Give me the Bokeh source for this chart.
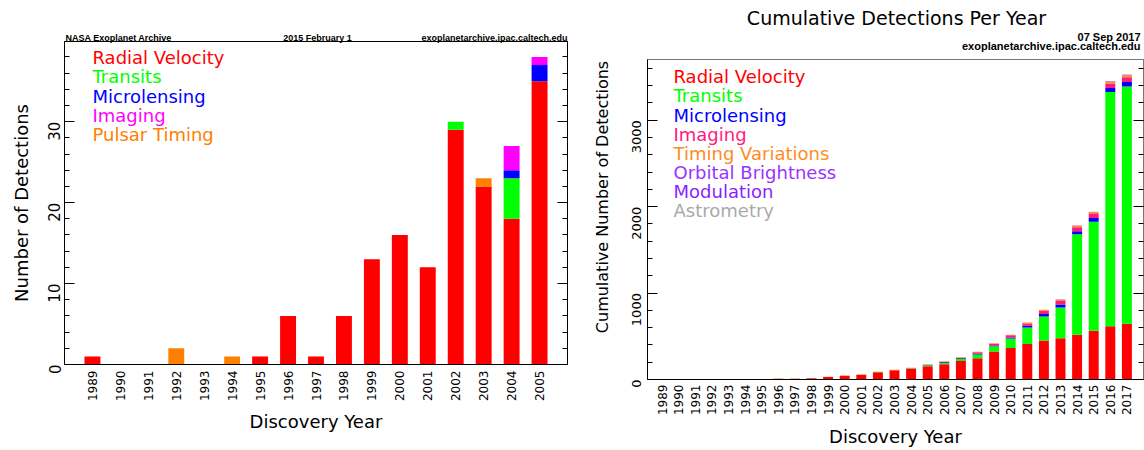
from math import pi
from bokeh.plotting import figure
from bokeh.layouts import row
from bokeh.models import (ColumnDataSource, Label, LinearAxis, FixedTicker,
                          SingleIntervalTicker, Range1d)
from bokeh.embed import file_html
from bokeh.resources import INLINE

# ---------------- data: left chart (detections per year, snapshot 2015) ----------------
years_a = list(range(1989, 2006))
rv_a      = [1, 0, 0, 0, 0, 0, 1, 6, 1, 6, 13, 16, 12, 29, 22, 18, 35]
transit_a = [0, 0, 0, 0, 0, 0, 0, 0, 0, 0, 0, 0, 0, 1, 0, 5, 0]
micro_a   = [0, 0, 0, 0, 0, 0, 0, 0, 0, 0, 0, 0, 0, 0, 0, 1, 2]
imaging_a = [0, 0, 0, 0, 0, 0, 0, 0, 0, 0, 0, 0, 0, 0, 0, 3, 1]
pulsar_a  = [0, 0, 0, 2, 0, 1, 0, 0, 0, 0, 0, 0, 0, 0, 1, 0, 0]
methods_a = ["Radial Velocity", "Transits", "Microlensing", "Imaging", "Pulsar Timing"]
colors_a  = ["#ff0000", "#00ff00", "#0000ff", "#ff00ff", "#ff8000"]

# ---------------- data: right chart (cumulative detections, snapshot 2017) ----------------
years_b = list(range(1989, 2018))
rv_b      = [1, 1, 1, 1, 1, 1, 2, 8, 9, 15, 28, 44, 56, 85, 107, 123, 154, 177, 215, 246,
             323, 365, 411, 450, 477, 519, 565, 615, 646]
transit_b = [0]*13 + [1, 1, 6, 10, 15, 23, 42, 61, 108, 192, 280, 357, 1161, 1261, 2710, 2745]
micro_b   = [0]*15 + [1, 4, 8, 9, 9, 10, 14, 18, 29, 34, 36, 42, 47, 50]
imaging_b = [0]*15 + [3, 4, 6, 6, 17, 19, 24, 27, 35, 41, 45, 47, 52, 55]
timing_b  = [0, 0, 0, 2, 2, 3, 3, 3, 3, 3, 3, 3, 3, 3, 4, 4, 4, 4, 5, 6, 7, 8, 10, 12,
             14, 17, 19, 22, 25]
orbital_b = [0]*22 + [1, 1, 3, 4, 5, 5, 6]
astro_b   = [0]*24 + [1, 1, 1, 1, 1]
methods_b = ["Radial Velocity", "Transits", "Microlensing", "Imaging",
             "Timing Variations", "Orbital Brightness Modulation", "Astrometry"]
colors_b  = ["#ff0000", "#00ff00", "#0000ff", "#ff1a80", "#ff8c1e", "#9933ff", "#aaaaaa"]
legend_b  = ["Radial Velocity", "Transits", "Microlensing", "Imaging", "Timing Variations",
             "Orbital Brightness", "Modulation", "Astrometry"]
legend_b_colors = ["#ff0000", "#00ff00", "#0000ff", "#ff1a80", "#ff8c1e", "#9933ff",
                   "#8a1fff", "#aaaaaa"]

FONT = "DejaVu Sans"
HFONT = "Liberation Sans"


def label_at(p, geom, px, py, text, size, color="black", align="left",
             baseline="alphabetic", font=FONT, style="normal"):
    """Label inside the frame, positioned through the plot's own data scales."""
    x0, x1, y0, y1, L, R, T, B = geom
    x = x0 + (px - L) / (R - L) * (x1 - x0)
    y = y0 + (B - py) / (B - T) * (y1 - y0)
    p.add_layout(Label(x=x, y=y, text=text, text_font_size=f"{size}px",
                       text_color=color, text_align=align, text_baseline=baseline,
                       text_font=font, text_font_style=style))


def side_text(p, side, px, py, text, size, color="black", align="left",
              baseline="alphabetic", font=FONT, style="normal", angle=0.0):
    """Text placed in a side panel (not clipped), in canvas pixels."""
    kw = dict(text=text, text_font_size=f"{size}px", text_color=color,
              text_align=align, text_baseline=baseline, text_font=font,
              text_font_style=style, angle=angle)
    try:
        lab = Label(x=px, y=py, x_units="canvas", y_units="canvas", **kw)
    except Exception:
        lab = Label(x=px, y=py, x_units="screen", y_units="screen", **kw)
    p.add_layout(lab, side)


def style_axes(p, years, interval, ytick_size, xtick_size, ystand, ylab_stand,
               xstand, xlab_stand, ylabel, ylab_size, outline):
    p.grid.visible = False
    p.outline_line_color = outline
    p.background_fill_color = "white"
    p.border_fill_color = "white"
    xa = p.xaxis[0]
    xa.ticker = FixedTicker(ticks=years)
    xa.major_label_orientation = pi / 2
    xa.major_tick_line_color = None
    xa.minor_tick_line_color = None
    xa.major_tick_in = 0
    xa.major_tick_out = 0
    xa.minor_tick_in = 0
    xa.minor_tick_out = 0
    xa.axis_line_color = "black"
    xa.major_label_text_font = FONT
    xa.major_label_text_font_size = f"{xtick_size}px"
    xa.major_label_text_color = "black"
    xa.major_label_standoff = xstand
    xa.axis_label = "Discovery Year"
    xa.axis_label_text_font = FONT
    xa.axis_label_text_font_size = "18px"
    xa.axis_label_text_font_style = "normal"
    xa.axis_label_text_color = "black"
    xa.axis_label_standoff = xlab_stand

    ya = p.yaxis[0]
    ya.ticker = SingleIntervalTicker(interval=interval, num_minor_ticks=5)
    ya.major_label_orientation = pi / 2
    ya.major_tick_in = 10
    ya.major_tick_out = 0
    ya.minor_tick_in = 5
    ya.minor_tick_out = 0
    ya.major_tick_line_color = "black"
    ya.minor_tick_line_color = "black"
    ya.axis_line_color = "black"
    ya.major_label_text_font = FONT
    ya.major_label_text_font_size = f"{ytick_size}px"
    ya.major_label_text_color = "black"
    ya.major_label_standoff = ystand
    if ylabel:
        ya.axis_label = ylabel
        ya.axis_label_text_font = FONT
        ya.axis_label_text_font_size = f"{ylab_size}px"
        ya.axis_label_text_font_style = "normal"
        ya.axis_label_text_color = "black"
        ya.axis_label_standoff = ylab_stand

    ra = LinearAxis(ticker=SingleIntervalTicker(interval=interval, num_minor_ticks=5),
                    major_tick_in=10, major_tick_out=0, minor_tick_in=5, minor_tick_out=0,
                    major_label_text_color=None, major_label_text_font_size="1px",
                    major_label_standoff=0, axis_line_color=outline,
                    major_tick_line_color="black", minor_tick_line_color="black")
    p.add_layout(ra, "right")


# Both figures share the same top (59) and bottom (70) borders so that the row's
# frame alignment is a no-op; the left one is lifted 18 px with a negative margin.
TOPB, BOTB = 59, 70
UP = 18
LEG = 6   # labels sit ~6px lower than their nominal baseline; compensate

# ---------------- left figure (canvas y = page y + 18) ----------------
xa0, xa1, ya0, ya1 = 1988.0, 2006.0, 0.0, 39.9
geomA = (xa0, xa1, ya0, ya1, 64, 567, 41 + UP, 365 + UP)
pA = figure(width=580, height=365 + UP + BOTB, x_range=Range1d(xa0, xa1),
            y_range=Range1d(ya0, ya1), output_backend="svg", toolbar_location=None,
            min_border_left=64, min_border_right=13, min_border_top=TOPB,
            min_border_bottom=BOTB, margin=(-UP, 0, 0, 0))
srcA = ColumnDataSource(dict(year=years_a, rv=rv_a, tr=transit_a, mi=micro_a,
                             im=imaging_a, pu=pulsar_a))
pA.vbar_stack(["rv", "tr", "mi", "im", "pu"], x="year", width=0.57, source=srcA,
              fill_color=colors_a, line_color=None)
style_axes(pA, years_a, 10, 15, 12, 10, 8, 6, 7, "Number of Detections", 18, "black")

for i, (name, col) in enumerate(zip(methods_a, colors_a)):
    label_at(pA, geomA, 92, 63 - LEG + UP + 19.4 * i, name, 18, color=col)

side_text(pA, "above", 65, 37 + UP, "NASA Exoplanet Archive", 9, font=HFONT, style="bold")
side_text(pA, "above", 317, 37 + UP, "2015 February 1", 9, font=HFONT, style="bold",
          align="center")
side_text(pA, "above", 567, 37 + UP, "exoplanetarchive.ipac.caltech.edu", 9, font=HFONT,
          style="bold", align="right")

# ---------------- right figure (canvas y = page y) ----------------
xb0, xb1, yb0, yb1 = 1988.12, 2018.0, 0.0, 3702.0
geomB = (xb0, xb1, yb0, yb1, 67, 563, 59, 380)
pB = figure(width=564, height=380 + BOTB, x_range=Range1d(xb0, xb1),
            y_range=Range1d(yb0, yb1), output_backend="svg", toolbar_location=None,
            min_border_left=67, min_border_right=1, min_border_top=TOPB,
            min_border_bottom=BOTB)
srcB = ColumnDataSource(dict(year=years_b, rv=rv_b, tr=transit_b, mi=micro_b,
                             im=imaging_b, ti=timing_b, ob=orbital_b, asx=astro_b))
pB.vbar_stack(["rv", "tr", "mi", "im", "ti", "ob", "asx"], x="year", width=0.6,
              source=srcB, fill_color=colors_b, line_color=None)
style_axes(pB, years_b, 1000, 13, 12, 11, 10, 5, 8, None, 16, "#777777")

for i, (name, col) in enumerate(zip(legend_b, legend_b_colors)):
    label_at(pB, geomB, 93, 82.3 - LEG + 19.2 * i, name, 18, color=col)

side_text(pB, "left", 21.5, 196.5, "Cumulative Number of Detections", 16,
          align="center", angle=pi / 2)
side_text(pB, "above", 316, 17.5, "Cumulative Detections Per Year", 19, align="center")
side_text(pB, "above", 560, 36.5, "07 Sep 2017", 11, font=HFONT, style="bold",
          align="right")
side_text(pB, "above", 560, 45, "exoplanetarchive.ipac.caltech.edu", 11,
          font=HFONT, style="bold", align="right")

layout = row(pA, pB)
open("out.html", "w").write(file_html(layout, INLINE))
